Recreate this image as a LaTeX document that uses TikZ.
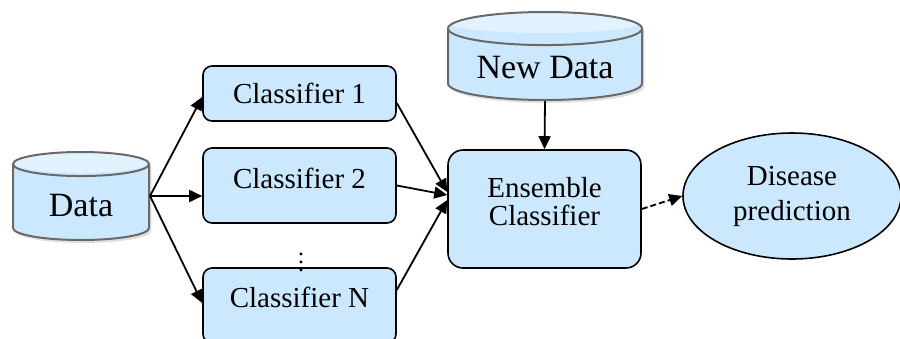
\documentclass[tikz,border=0pt]{standalone}
\usepackage{fontspec}
\setmainfont{Liberation Serif}
\usetikzlibrary{shapes.geometric,shadows,arrows.meta}
\definecolor{cellblue}{RGB}{204,232,255}
\definecolor{capblue}{RGB}{226,243,255}
\definecolor{rimgray}{RGB}{105,105,105}
\tikzset{store/.style={cylinder,shape border rotate=90,draw=rimgray,line width=1pt,fill=cellblue,
    drop shadow={opacity=0.25,shadow xshift=1.2pt,shadow yshift=-1.5pt},
    font=\fontsize{17}{20}\selectfont,anchor=shape center},
  cap/.style={path picture={\fill[capblue] ([yshift=-5.25pt]path picture bounding box.north)
    ellipse [x radius=#1,y radius=5.25pt];}}}
\tikzset{clf/.style={draw,line width=0.8pt,fill=cellblue,rounded corners=4.5pt,
    minimum width=96.5pt,align=center,font=\fontsize{14.5}{14}\selectfont}}
\tikzset{feed/.style={line width=0.9pt,-{Triangle[length=6.5pt,width=6pt]}}}

\begin{document}
\begin{tikzpicture}[x=0.5pt,y=-0.5pt]
  \useasboundingbox (0,0) rectangle (900,338);
  % data stores
  \node[store,aspect=0.31,cap=34pt,minimum width=68pt,minimum height=44pt] (data) at (81,196) {Data};
  \node[store,aspect=0.22,cap=48.5pt,minimum width=97pt,minimum height=44pt] (newdata) at (545,56) {New Data};
  % base classifiers
  \node[clf,minimum height=27.5pt] (clf1) at (299.5,93.5) {Classifier 1};
  \node[clf,minimum height=37.5pt,text depth=6.8pt] (clf2) at (299.5,185.5) {Classifier 2};
  \node[clf,minimum height=37.5pt,text depth=8.3pt] (clfN) at (299.5,305.5) {Classifier N};
  \node[font=\fontsize{12}{12}\selectfont,inner sep=0pt] (dots) at (301,256) {$\vdots$};
  % combiner and output
  \node[clf,minimum height=59pt,rounded corners=7.5pt,text depth=8pt] (ens) at (544.5,209) {Ensemble\\Classifier};
  \node[ellipse,draw,line width=0.8pt,fill=cellblue,minimum width=109pt,minimum height=63pt,
    inner sep=0pt,align=center,font=\fontsize{14.5}{17.5}\selectfont] (dis) at (792,196) {Disease\\prediction};
  %
  \coordinate (split) at (data.shape center -| data.east);
  \draw[feed] (split) -- ([yshift=-1.75pt]clf1.west);
  \draw[feed] (split) -- (split -| clf2.west);
  \draw[feed] (split) -- ([yshift=1.25pt]clfN.west);
  \draw[feed] ([yshift=-4.75pt]clf1.east) -- ([yshift=8.5pt]ens.west);
  \draw[feed] (clf2.east) -- ([yshift=7pt]ens.west);
  \draw[feed] ([yshift=7.75pt]clfN.east) -- ([yshift=4.5pt]ens.west);
  \draw[feed] (newdata.south) -- (ens.north);
  \draw[feed,dash pattern=on 3pt off 1.5pt] (ens.east) -- (dis.west);
\end{tikzpicture}
\end{document}
